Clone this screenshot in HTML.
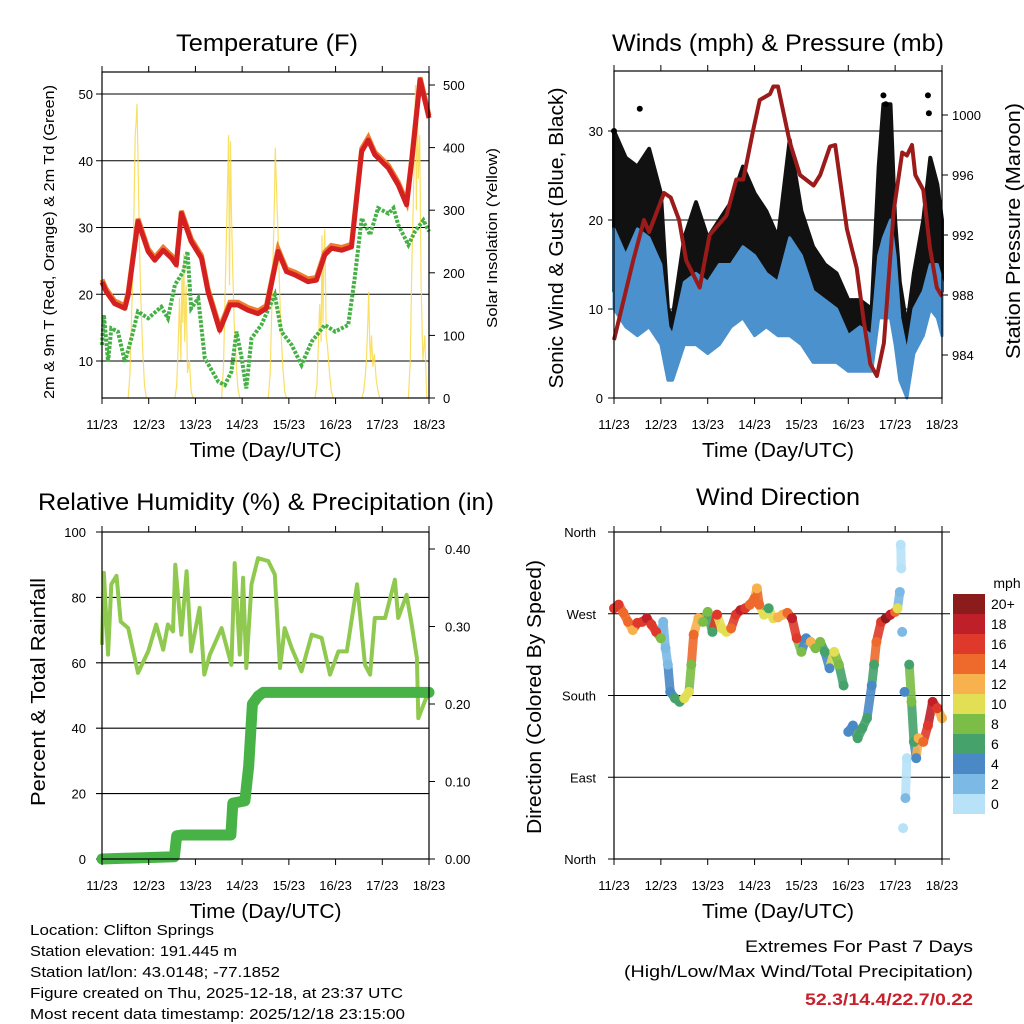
<!DOCTYPE html>
<html><head><meta charset="utf-8"><style>
html,body{margin:0;padding:0;background:#fff;}
svg{display:block;font-family:"Liberation Sans",sans-serif;}
</style></head><body>
<svg id="fig" width="1024" height="1024" viewBox="0 0 1024 1024" xmlns="http://www.w3.org/2000/svg"></svg>
<script>
// ---------- DATA ----------
const dayLabels = ["11/23","12/23","13/23","14/23","15/23","16/23","17/23","18/23"];
const tempT = [0,.09,.27,.49,.56,.77,.99,1.13,1.31,1.49,1.59,1.7,1.91,2.13,2.27,2.52,2.74,2.91,3.13,3.34,3.52,3.77,3.95,4.13,4.41,4.59,4.77,4.91,5.13,5.34,5.56,5.7,5.84,6.13,6.34,6.52,6.63,6.81,7];
const tempV = [21.8,20.4,18.6,17.9,19.9,30.9,26.4,25.1,26.6,25.4,24.4,32.1,27.9,25.4,20.4,14.6,18.4,18.4,17.6,17.1,17.9,26.4,23.4,22.9,21.9,22.1,25.9,26.9,26.6,27.1,41.4,43.1,40.9,38.9,36.4,33.4,39.9,52.1,46.4];
const dewT = [0,.04,.13,.2,.34,.49,.63,.77,.99,1.27,1.41,1.56,1.74,1.83,1.91,2.06,2.2,2.49,2.63,2.77,2.88,2.99,3.09,3.2,3.41,3.7,3.84,4.06,4.27,4.49,4.77,4.99,5.27,5.41,5.56,5.74,5.91,6.13,6.24,6.34,6.56,6.7,6.88,7];
const dewV = [12.4,16.9,9.9,14.9,14.4,9.9,13.4,17.4,16.4,18.1,16.4,21.4,23.4,26.4,17.9,19.4,10.4,6.9,6.4,8.4,14.4,10.4,5.9,13.4,15.4,19.9,14.4,12.4,9.4,12.9,15.4,14.4,15.4,22.4,31.4,28.9,32.9,32.1,32.9,30.4,27.4,29.4,31.1,29.4];
const solarOffsets = [0.56,0.60,0.63,0.66,0.69,0.71,0.73,0.75,0.77,0.80,0.83,0.87,0.91,0.95];
const solarDay0 = [0,40,120,200,320,420,440,470,380,250,160,80,20,0];
const solarDay1 = [0,20,80,160,60,200,120,230,90,180,40,60,10,0];
const solarDay2 = [0,50,150,250,350,420,180,410,300,200,120,60,15,0];
const solarDay3 = [0,40,130,220,310,400,350,300,260,180,110,50,10,0];
const solarDay4 = [0,20,80,150,90,260,120,230,270,100,80,40,10,0];
const solarDay5 = [0,10,30,60,120,170,90,60,100,50,70,30,10,0];
const solarDay6 = [0,60,200,300,400,500,300,500,350,420,180,60,100,0];
const windT = [0,.25,.5,.75,1.0,1.15,1.25,1.5,1.75,2.0,2.25,2.5,2.75,3.0,3.25,3.5,3.75,4.0,4.25,4.5,4.75,5.0,5.25,5.5,5.65,5.75,5.9,6.0,6.1,6.25,6.4,6.6,6.75,6.9,7.0];
const windLo = [10,8,7,8,6,2,2,6,6,5,6,8,9,7,8,7,7,6,4,4,4,3,3,3,9,9,9,6,2,0,5,7,10,9,7];
const windHi = [19,16,19,18,15,8,7,13,14,13,15,15,17,16,14,13,18,16,12,11,10,7,8,7,16,18,20,16,9,5,10,12,15,15,13];
const gustLo = [12,14,15,14,10,4,4,9,10,8,10,12,14,10,11,10,12,10,7,7,6,6,6,5,13,14,15,12,4,3,7,10,14,14,12];
const gustHi = [30,27,26,28,23,10,9,18,22,18,20,22,26,23,21,18,29,21,17,15,14,11,11,10,26,33,33,20,13,8,14,20,27,24,20];
const gustOutT = [0,0.55,5.75,5.8,6.7,6.72];
const gustOutV = [30,32.5,34,33,34,32];
const presT = [0,.41,.64,.75,1.07,1.21,1.39,1.54,1.83,2.04,2.4,2.61,2.76,2.97,3.11,3.33,3.4,3.5,3.75,3.97,4.26,4.4,4.61,4.72,4.97,5.18,5.33,5.47,5.61,5.76,5.97,6.15,6.25,6.36,6.43,6.6,6.74,6.89,7];
const presV = [985,990.3,993,992.2,994.8,994.5,993,990.3,988.5,992,993.3,995.7,995.7,999,1001,1001.4,1001.9,1001.9,998.2,996,995.3,996,997.9,998,992.4,989.8,986.3,983.4,982.6,984.8,993.6,997.5,997.3,998,996,995,991.2,988.5,987.9];
const rhT = [0,.04,.13,.2,.31,.4,.56,.77,.99,1.16,1.31,1.41,1.52,1.57,1.7,1.81,1.91,2.09,2.19,2.31,2.56,2.77,2.84,2.95,3.02,3.09,3.2,3.34,3.56,3.7,3.81,3.91,4.06,4.27,4.49,4.7,4.88,5.06,5.24,5.46,5.63,5.74,5.84,6.06,6.27,6.34,6.52,6.63,6.74,6.77,6.91,7];
const rhV = [65.5,87.5,62.5,84,86.6,72.6,70.6,56.9,63.5,71.7,64,71.7,69.6,90,68.6,88,63.5,76.8,56.4,62.5,70.6,59.4,90.5,62.5,86,58.4,84,92,91.1,87,58.4,70.6,64.5,57.4,68.6,67.6,56.4,63.5,63.5,84,59.4,56.4,73.7,73.7,85.4,73.7,80.8,71.7,61.5,43.1,48.2,51.3];
const rainT = [0,1.55,1.6,1.72,2.76,2.8,3.06,3.14,3.22,3.34,3.45,7];
const rainV = [0,0.003,0.03,0.031,0.031,0.072,0.075,0.12,0.2,0.21,0.215,0.215];
const dirT = [0,.1,.2,.3,.4,.5,.6,.7,.8,.9,1.0,1.05,1.1,1.15,1.2,1.3,1.4,1.5,1.6,1.65,1.7,1.8,1.9,2.0,2.1,2.2,2.3,2.4,2.5,2.6,2.7,2.8,2.9,3.0,3.05,3.1,3.2,3.3,3.4,3.5,3.6,3.7,3.8,3.9,4.0,4.1,4.2,4.3,4.4,4.5,4.6,4.7,4.8,4.9,5.0,5.1,5.2,5.3,5.4,5.5,5.55,5.6,5.7,5.8,5.9,6.0,6.05,6.1,6.12,6.13,6.15,6.17,6.2,6.22,6.25,6.3,6.35,6.4,6.45,6.5,6.6,6.7,6.8,6.9,7.0];
const dirV = [276,280,271,261,252,260,261,265,258,250,243,261,232,214,184,177,173,177,184,214,247,265,261,272,250,269,254,250,254,269,274,276,280,287,298,280,269,276,265,266,269,271,265,243,228,243,239,232,239,228,210,228,214,191,140,147,133,144,155,191,214,239,261,265,269,272,276,294,346,320,250,34,184,67,111,214,173,129,111,133,129,147,173,166,155];
const dirS = [16,16,15,14,13,17,17,18,16,16,8,3,3,3,4,6,7,10,11,8,14,13,8,9,6,16,10,10,14,17,18,16,14,15,12,14,11,7,10,13,12,14,18,17,8,4,13,8,9,6,5,10,8,7,4,5,6,7,7,5,6,14,16,20,18,14,10,3,1,1,2,1,4,2,1,6,9,6,4,12,15,16,18,16,12];
const speedBins = ["0","2","4","6","8","10","12","14","16","18","20+"];
const speedColors = ["#b7e2f7","#7cb9e4","#4a88c6","#45a26a","#7cbd47","#e3df55","#f7b14d","#ee6a2c","#de392a","#bf1f29","#8c1b1b"];

// ---------- HELPERS ----------
const svg = document.getElementById('fig');
const NS = "http://www.w3.org/2000/svg";
function mk(tag, attrs, name, parent){
  const el = document.createElementNS(NS, tag);
  for (const k in attrs) el.setAttribute(k, attrs[k]);
  
  
  (parent||svg).appendChild(el);
  return el;
}
function txt(x,y,s,size,anchor,name,opts){
  opts = opts||{};
  const a = {x:x,y:y,'font-size':size,'text-anchor':anchor||'start',fill:opts.fill||'#000'};
  if (opts.len){a.textLength=opts.len;a.lengthAdjust='spacingAndGlyphs';}
  if (opts.rot){a.transform='rotate('+opts.rot+' '+x+' '+y+')';}
  if (opts.bold) a['font-weight']='bold';
  const t = mk('text', a, name);
  t.textContent = s;
  return t;
}
function linScale(d0,d1,r0,r1){return v => r0 + (v-d0)*(r1-r0)/(d1-d0);}
function pathFrom(ts,vs,xs,ys){
  let d='';
  for(let i=0;i<ts.length;i++) d += (i?'L':'M') + xs(ts[i]).toFixed(1)+','+ys(vs[i]).toFixed(1);
  return d;
}
function frame(L,T,R,B,prefix){
  mk('rect',{x:L,y:T,width:R-L,height:B-T,fill:'none',stroke:'#000','stroke-width':1.2},prefix+'-frame');
  const xs = linScale(0,7,L,R);
  for(let i=0;i<8;i++){
    const x = xs(i);
    mk('line',{x1:x,y1:B,x2:x,y2:B+6,stroke:'#000','stroke-width':1},prefix+'-x-tick');
    mk('line',{x1:x,y1:T,x2:x,y2:T-6,stroke:'#000','stroke-width':1},prefix+'-x-tick-top');
    txt(x,B+31,dayLabels[i],13,'middle',prefix+'-x-tick-label');
  }
  txt((L+R)/2,B+59,"Time (Day/UTC)",20,'middle',prefix+'-x-axis-title',{len:152});
  return xs;
}
function hgrid(L,R,y,name){mk('line',{x1:L-6,y1:y,x2:R,y2:y,stroke:'#000','stroke-width':1.1},name);}

// ---------- PANEL 1: TEMPERATURE ----------
(function(){
  const L=102,T=72,R=429,B=398;
  const ys = linScale(10,50,361,94);
  const yr = linScale(0,500,398,85);
  const xs = linScale(0,7,L,R);
  txt(267,51,"Temperature (F)",24,'middle','temperature-title',{len:182});
  [10,20,30,40,50].forEach(v=>{hgrid(L,R,ys(v),'temp-gridline');txt(L-9,ys(v)+5,String(v),13,'end','temp-y-tick-label');});
  [0,100,200,300,400,500].forEach(v=>{mk('line',{x1:R,y1:yr(v),x2:R+6,y2:yr(v),stroke:'#000'},'solar-y-tick');txt(R+14,yr(v)+5,String(v),13,'start','solar-y-tick-label');});
  const days=[solarDay0,solarDay1,solarDay2,solarDay3,solarDay4,solarDay5,solarDay6];
  days.forEach((arr,d)=>{
    const ts = solarOffsets.map(o=>Math.min(7,d+o));
    mk('path',{d:pathFrom(ts,arr,xs,v=>Math.max(T,yr(v))),fill:'none',stroke:'#f9d94a','stroke-width':1.2,opacity:0.85},'solar-insolation-line');
  });
  mk('path',{d:pathFrom(dewT,dewV,xs,ys),fill:'none',stroke:'#45b045','stroke-width':4,'stroke-dasharray':'3 1.5'},'dewpoint-line');
  mk('path',{d:pathFrom(tempT,tempV.map(v=>v+0.4),xs,ys),fill:'none',stroke:'#ef7b2c','stroke-width':5},'temp-9m-line');
  mk('path',{d:pathFrom(tempT,tempV,xs,ys),fill:'none',stroke:'#d42020','stroke-width':5,'stroke-linejoin':'round'},'temp-2m-line');
  frame(L,T,R,B,'temp');
  txt(54,242,"2m & 9m T (Red, Orange) & 2m Td (Green)",15,'middle','temp-y-axis-title',{rot:-90,len:314});
  txt(497,238,"Solar Insolation (Yellow)",15,'middle','solar-y-axis-title',{rot:-90,len:180});
})();

// ---------- PANEL 2: WINDS ----------
(function(){
  const L=614,T=71,R=942,B=398;
  const ys = linScale(0,30,398,131);
  const yp = linScale(984,1000,355,115);
  const xs = linScale(0,7,L,R);
  txt(778,51,"Winds (mph) & Pressure (mb)",24,'middle','winds-title',{len:332});
  [0,10,20,30].forEach(v=>{hgrid(L,R,ys(v),'wind-gridline');txt(L-11,ys(v)+5,String(v),13,'end','wind-y-tick-label');});
  [984,988,992,996,1000].forEach(v=>{mk('line',{x1:R,y1:yp(v),x2:R+6,y2:yp(v),stroke:'#000'},'pressure-y-tick');txt(R+10,yp(v)+5,String(v),13,'start','pressure-y-tick-label');});
  const band=(lo,hi)=>pathFrom(windT,hi,xs,ys)+pathFrom(windT.slice().reverse(),lo.slice().reverse(),xs,ys).replace('M','L')+'Z';
  mk('path',{d:band(gustLo,gustHi),fill:'#111',stroke:'#111','stroke-width':4,'stroke-linejoin':'round'},'gust-points');
  mk('path',{d:band(windLo,windHi),fill:'#4b91cd',stroke:'#4b91cd','stroke-width':3,'stroke-linejoin':'round'},'sonic-wind-line');
  gustOutT.forEach((t,i)=>mk('circle',{cx:xs(t),cy:ys(gustOutV[i]),r:3,fill:'#000'},'gust-outlier-point'));
  mk('path',{d:pathFrom(presT,presV,xs,yp),fill:'none',stroke:'#9b1b1b','stroke-width':4,'stroke-linejoin':'round'},'pressure-line');
  frame(L,T,R,B,'winds');
  txt(563,238,"Sonic Wind & Gust (Blue, Black)",20,'middle','wind-y-axis-title',{rot:-90,len:301});
  txt(1020,231,"Station Pressure (Maroon)",20,'middle','pressure-y-axis-title',{rot:-90,len:256});
})();

// ---------- PANEL 3: RH & PRECIP ----------
(function(){
  const L=102,T=532,R=429,B=859;
  const ys = linScale(0,100,859,532);
  const yr = linScale(0,0.4,859,549);
  const xs = linScale(0,7,L,R);
  txt(266,510,"Relative Humidity (%) & Precipitation (in)",24,'middle','rh-precip-title',{len:456});
  [0,20,40,60,80,100].forEach(v=>{hgrid(L,R,ys(v),'rh-gridline');txt(L-16,ys(v)+5,String(v),13,'end','rh-y-tick-label');});
  [0,0.1,0.2,0.3,0.4].forEach(v=>{mk('line',{x1:R,y1:yr(v),x2:R+6,y2:yr(v),stroke:'#000'},'precip-y-tick');txt(R+16,yr(v)+5,v.toFixed(2),13,'start','precip-y-tick-label');});
  mk('path',{d:pathFrom(rhT,rhV,xs,ys),fill:'none',stroke:'#8fc94f','stroke-width':4,'stroke-linejoin':'round'},'relative-humidity-line');
  mk('path',{d:pathFrom(rainT,rainV,xs,yr),fill:'none',stroke:'#47b246','stroke-width':11,'stroke-linejoin':'round','stroke-linecap':'round'},'total-rainfall-line');
  frame(L,T,R,B,'rh');
  txt(45,692,"Percent & Total Rainfall",20,'middle','rh-y-axis-title',{rot:-90,len:228});
})();

// ---------- PANEL 4: WIND DIRECTION ----------
(function(){
  const L=614,T=532,R=942,B=859;
  const ys = linScale(0,360,859,532);
  const xs = linScale(0,7,L,R);
  txt(778,505,"Wind Direction",24,'middle','wind-direction-title',{len:164});
  [[360,"North"],[270,"West"],[180,"South"],[90,"East"],[0,"North"]].forEach(p=>{hgrid(L,R+8,ys(p[0]),'direction-gridline');txt(L-18,ys(p[0])+5,p[1],13,'end','direction-y-tick-label');});
  const binOf = s => Math.min(10,Math.floor(s/2));
  for(let i=1;i<dirT.length;i++){
    if (Math.abs(dirV[i]-dirV[i-1])>45) continue;
    mk('line',{x1:xs(dirT[i-1]),y1:ys(dirV[i-1]),x2:xs(dirT[i]),y2:ys(dirV[i]),stroke:speedColors[binOf(dirS[i])],'stroke-width':9,'stroke-linecap':'round',opacity:0.9},'wind-direction-trace');
  }
  dirT.forEach((t,i)=>{
    mk('circle',{cx:xs(t),cy:ys(dirV[i]),r:5,fill:speedColors[binOf(dirS[i])]},'wind-direction-point');
  });
  frame(L,T,R,B,'direction');
  txt(541,697,"Direction (Colored By Speed)",20,'middle','direction-y-axis-title',{rot:-90,len:274});
  txt(1007,588,"mph",14,'middle','colorbar-title');
  for(let i=0;i<speedBins.length;i++){
    const y = 594 + (10-i)*20;
    mk('rect',{x:953,y:y,width:32,height:20,fill:speedColors[i]},'colorbar-swatch');
    txt(991,y+15,speedBins[i],14,'start','colorbar-label');
  }
})();

// ---------- FOOTER ----------
const foot = [["Location: Clifton Springs",184],["Station elevation: 191.445 m",207],["Station lat/lon: 43.0148; -77.1852",250],["Figure created on Thu, 2025-12-18, at 23:37 UTC",373],["Most recent data timestamp: 2025/12/18 23:15:00",375]];
foot.forEach((f,i)=>txt(30,935+i*21,f[0],15,'start','footer-info-line',{len:f[1]}));
txt(973,952,"Extremes For Past 7 Days",17,'end','extremes-heading',{len:228});
txt(973,977,"(High/Low/Max Wind/Total Precipitation)",17,'end','extremes-subheading',{len:349});
txt(973,1005,"52.3/14.4/22.7/0.22",17,'end','extremes-values',{len:168,bold:true,fill:'#c8202c'});
</script>
</body></html>
